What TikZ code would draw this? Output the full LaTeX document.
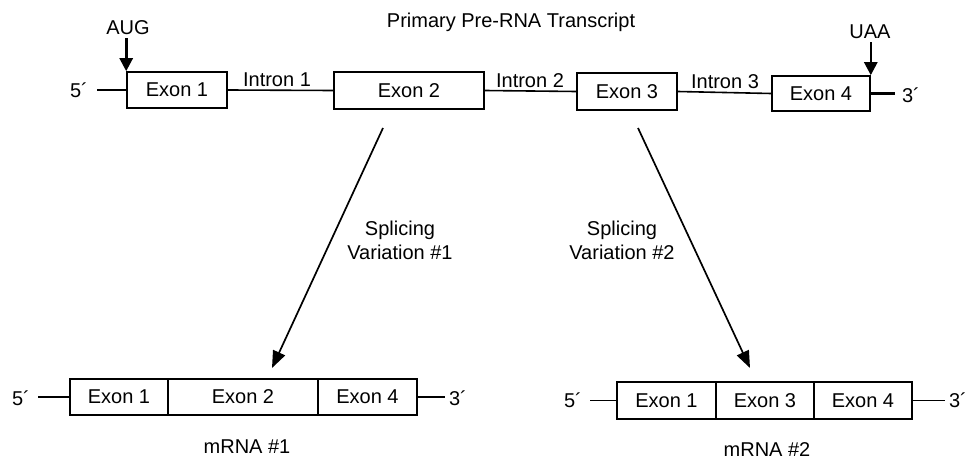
\documentclass[tikz,border=0pt]{standalone}
\usepackage{fontspec}
\setmainfont{Liberation Sans}
\usetikzlibrary{arrows.meta}
\begin{document}
\begin{tikzpicture}[x=1pt,y=-1pt,
  every node/.style={font=\fontsize{20}{24}\selectfont, inner sep=0pt},
  exon/.style={draw, line width=1.6pt, rectangle, minimum height=36pt},
  wire/.style={line width=1.6pt},
  thickwire/.style={line width=2.6pt},
  bigarrow/.style={line width=1.7pt, -{Triangle[length=17pt,width=13pt]}},
  codon/.style={line width=2.6pt, -{Triangle[length=13pt,width=13pt]}}]
\useasboundingbox (0,0) rectangle (975,460);
% title
\node (title) at (511,22) {Primary Pre-RNA Transcript};
% top row exons
\node[exon, minimum width=100pt] (e1) at (177,90) {Exon 1};
\node[exon, minimum width=150pt, minimum height=37pt] (e2) at (409,90.5) {Exon 2};
\node[exon, minimum width=100pt, minimum height=37pt] (e3) at (627,91.5) {Exon 3};
\node[exon, minimum width=98pt, minimum height=35pt] (e4) at (821,93.5) {Exon 4};
\node (p5) at (79,90) {5´};
\node (p3) at (911,95) {3´};
\coordinate (l5) at (97,90);
\coordinate (l3) at (895,93.5);
\draw[wire] (l5) -- (e1.west);
\draw[wire] (e1.east) -- (e2.west);
\draw[wire] (e2.east) -- (e3.west);
\draw[wire] (e3.east) -- (e4.west);
\draw[thickwire] (e4.east) -- (l3);
\node[anchor=south] (i1) at (277,87) {Intron 1};
\node[anchor=south] (i2) at (530,88) {Intron 2};
\node[anchor=south] (i3) at (725,89) {Intron 3};
% codons
\node (aug) at (128,28) {AUG};
\node (uaa) at (870,32) {UAA};
\draw[codon] (aug.south -| e1.north west) ++(0,3) -- (e1.north west);
\draw[codon] (uaa.south -| e4.north east) ++(0,3) -- (e4.north east);
% splicing arrows
\coordinate (s1) at (383,128);
\coordinate (t1) at (272,368);
\coordinate (s2) at (638,128);
\coordinate (t2) at (750,368);
\draw[bigarrow] (s1) -- (t1);
\draw[bigarrow] (s2) -- (t2);
\node[align=center] (v1) at (400,240) {Splicing\\Variation \#1};
\node[align=center] (v2) at (622,240) {Splicing\\Variation \#2};
% mRNA 1
\node[exon, minimum width=98pt] (a1) at (119,397) {Exon 1};
\node[exon, minimum width=150pt] (a2) at (243,397) {Exon 2};
\node[exon, minimum width=99pt] (a3) at (367.5,397) {Exon 4};
\node (q5) at (21,398) {5´};
\node (q3) at (458,398) {3´};
\coordinate (m5) at (38,397);
\coordinate (m3) at (445,397);
\draw[wire] (m5) -- (a1.west);
\draw[thickwire] (a3.east) -- (m3);
\node (m1) at (247,447) {mRNA \#1};
% mRNA 2
\node[exon, minimum width=99pt, minimum height=37pt] (b1) at (666.5,400.5) {Exon 1};
\node[exon, minimum width=98pt, minimum height=37pt] (b2) at (765,400.5) {Exon 3};
\node[exon, minimum width=98pt, minimum height=37pt] (b3) at (863,400.5) {Exon 4};
\node (r5) at (573,400) {5´};
\node (r3) at (958,400) {3´};
\coordinate (n5) at (590,400.5);
\coordinate (n3) at (945,400.5);
\draw[wire] (n5) -- (b1.west);
\draw[wire] (b3.east) -- (n3);
\node (m2) at (767,450) {mRNA \#2};
\end{tikzpicture}
\end{document}
